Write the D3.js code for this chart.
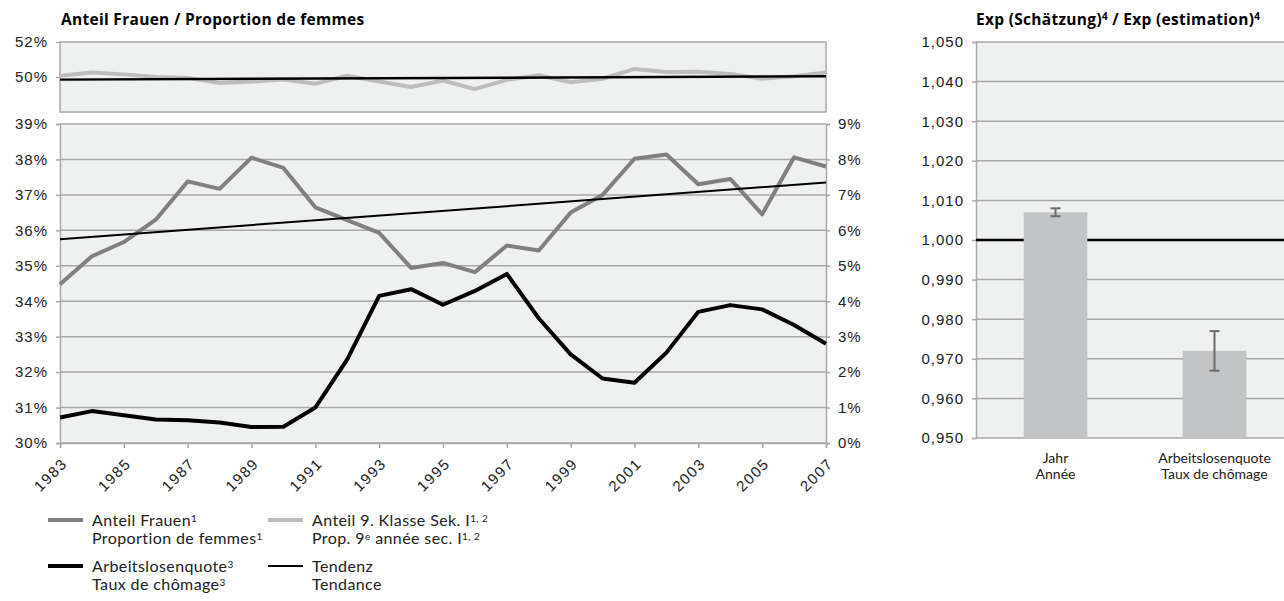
<!DOCTYPE html>
<html>
<head>
<meta charset="utf-8">
<script src="https://cdn.jsdelivr.net/npm/d3@7.9.0/dist/d3.min.js"></script>
<style>
  body { margin: 0; background: #fff; }
  svg { display: block; font-family: "Open Sans", sans-serif; }
  .tick text { font-size: 15px; letter-spacing: 1px; fill: #222; }
  .legend text { font-family: Lato, sans-serif; font-size: 16px; letter-spacing: 0.4px; fill: #222; }
  .title { font-size: 15.5px; font-weight: bold; letter-spacing: 0.3px; }
</style>
</head>
<body>
<svg width="1284" height="601"></svg>
<script>
// data
const years = [1983, 1984, 1985, 1986, 1987, 1988, 1989, 1990, 1991, 1992, 1993, 1994, 1995,
               1996, 1997, 1998, 1999, 2000, 2001, 2002, 2003, 2004, 2005, 2006, 2007];
const yearLabels = [1983, 1985, 1987, 1989, 1991, 1993, 1995, 1997, 1999, 2001, 2003, 2005, 2007];
const anteilFrauen = [34.48, 35.27, 35.67, 36.3, 37.38, 37.17, 38.05, 37.76, 36.65, 36.29, 35.93, 34.94, 35.08,
                      34.82, 35.57, 35.43, 36.5, 37.0, 38.02, 38.14, 37.3, 37.45, 36.45, 38.06, 37.8];
const arbeitslos = [0.72, 0.9, 0.78, 0.66, 0.64, 0.58, 0.45, 0.46, 1.0, 2.36, 4.15, 4.34, 3.9,
                    4.29, 4.77, 3.52, 2.5, 1.82, 1.7, 2.55, 3.7, 3.89, 3.77, 3.33, 2.8];
const klasse9 = [50.07, 50.26, 50.15, 50.0, 49.95, 49.66, 49.74, 49.86, 49.62, 50.07, 49.74, 49.43, 49.8,
                 49.31, 49.84, 50.1, 49.7, 49.9, 50.46, 50.28, 50.3, 50.17, 49.9, 50.04, 50.26];
const trendYears = [1983, 2007];
const trendFrauen = [35.75, 37.35];
const trendKlasse = [49.85, 50.04];
const leftTicks = [30, 31, 32, 33, 34, 35, 36, 37, 38, 39];
const rightTicks = [0, 1, 2, 3, 4, 5, 6, 7, 8, 9];
const topTicks = [50, 52];

const expCats = ["Jahr", "Arbeitslosenquote"];
const expCatLabels = [["Jahr", "Année"], ["Arbeitslosenquote", "Taux de chômage"]];
const expValues = [1.007, 0.972];
const expLow = [1.006, 0.967];
const expHigh = [1.008, 0.977];
const expTicks = [0.95, 0.96, 0.97, 0.98, 0.99, 1.0, 1.01, 1.02, 1.03, 1.04, 1.05];

const bg = '#eff0f0', grid = '#a8a8a8';
const svg = d3.select('svg');

// scales
let x = d3.scaleLinear().domain([1983, 2007]).range([60, 826]);
let yTop = d3.scaleLinear().domain([48, 52]).range([112, 42]);
let yLeft = d3.scaleLinear().domain([30, 39]).range([443, 124]);
let yRight = d3.scaleLinear().domain([0, 9]).range([443, 124]);

// titles
svg.append('text').attr('class', 'title').attr('x', 61).attr('y', 25)
  .text('Anteil Frauen / Proportion de femmes');

let t2 = svg.append('text').attr('class', 'title').attr('x', 976).attr('y', 25);
t2.append('tspan').text('Exp (Schätzung)');
t2.append('tspan').attr('font-size', 10).attr('dy', -5).text('4');
t2.append('tspan').attr('dy', 5).text(' / Exp (estimation)');
t2.append('tspan').attr('font-size', 10).attr('dy', -5).text('4');

// ---- upper small panel
svg.append('rect').attr('x', 60).attr('y', 42).attr('width', 766).attr('height', 70)
  .attr('fill', bg).attr('stroke', grid).attr('stroke-width', 1.5);

svg.append('g').attr('transform', 'translate(60,0)')
  .call(d3.axisLeft(yTop).tickValues(topTicks).tickSize(4).tickPadding(8).tickFormat(d => d + '%'))
  .call(g => g.select('.domain').remove())
  .call(g => g.selectAll('line').attr('stroke', grid).attr('stroke-width', 1.5));

let line9 = d3.line().x((d, i) => x(years[i])).y(d => yTop(d));
svg.append('path').datum(klasse9).attr('d', line9)
  .attr('fill', 'none').attr('stroke', '#bdbdbd').attr('stroke-width', 4).attr('stroke-linejoin', 'round');

svg.append('path').datum(trendKlasse)
  .attr('d', d3.line().x((d, i) => x(trendYears[i])).y(d => yTop(d)))
  .attr('fill', 'none').attr('stroke', '#000').attr('stroke-width', 2.5);

// ---- main panel
svg.append('rect').attr('x', 60).attr('y', 124).attr('width', 766).attr('height', 319).attr('fill', bg);

svg.append('g').selectAll('line').data(leftTicks).join('line')
  .attr('x1', 60).attr('x2', 826)
  .attr('y1', d => yLeft(d)).attr('y2', d => yLeft(d))
  .attr('stroke', grid).attr('stroke-width', 1.5);

svg.append('g').attr('transform', 'translate(60,0)')
  .call(d3.axisLeft(yLeft).tickValues(leftTicks).tickSize(4).tickPadding(8).tickFormat(d => d + '%'))
  .call(g => g.select('.domain').attr('stroke', grid).attr('stroke-width', 1.5))
  .call(g => g.selectAll('line').attr('stroke', grid).attr('stroke-width', 1.5));

svg.append('g').attr('transform', 'translate(826,0)')
  .call(d3.axisRight(yRight).tickValues(rightTicks).tickSize(4).tickPadding(8).tickFormat(d => d + '%'))
  .call(g => g.select('.domain').attr('stroke', grid).attr('stroke-width', 1.5))
  .call(g => g.selectAll('line').attr('stroke', grid).attr('stroke-width', 1.5));

let xAxis = svg.append('g').attr('transform', 'translate(0,443)')
  .call(d3.axisBottom(x).tickValues(yearLabels).tickSize(5).tickFormat(d => d));
xAxis.select('.domain').attr('stroke', grid).attr('stroke-width', 1.5);
xAxis.selectAll('line').attr('stroke', grid).attr('stroke-width', 1.5);
xAxis.selectAll('text')
  .attr('text-anchor', 'end')
  .attr('dy', 0)
  .style('letter-spacing', '1.5px')
  .attr('transform', 'translate(2,16) rotate(-45)');

let lineFrauen = d3.line().x((d, i) => x(years[i])).y(d => yLeft(d));
let lineArbeit = d3.line().x((d, i) => x(years[i])).y(d => yRight(d));

svg.append('path').datum(anteilFrauen).attr('d', lineFrauen)
  .attr('fill', 'none').attr('stroke', '#808080').attr('stroke-width', 4).attr('stroke-linejoin', 'round');
svg.append('path').datum(arbeitslos).attr('d', lineArbeit)
  .attr('fill', 'none').attr('stroke', '#000').attr('stroke-width', 4).attr('stroke-linejoin', 'round');
svg.append('path').datum(trendFrauen)
  .attr('d', d3.line().x((d, i) => x(trendYears[i])).y(d => yLeft(d)))
  .attr('fill', 'none').attr('stroke', '#000').attr('stroke-width', 2);

// ---- legend
const legendItems = [
  { color: '#808080', w: 4, x: 48, y: 520, lines: [['Anteil Frauen', '1'], ['Proportion de femmes', '1']] },
  { color: '#bdbdbd', w: 4, x: 268, y: 520, lines: [['Anteil 9. Klasse Sek. I', '1, 2'], ['Prop. 9', 'e', ' année sec. I', '1, 2']] },
  { color: '#000', w: 4, x: 48, y: 566, lines: [['Arbeitslosenquote', '3'], ['Taux de chômage', '3']] },
  { color: '#000', w: 2, x: 268, y: 566, lines: [['Tendenz'], ['Tendance']] }
];
let legend = svg.append('g').attr('class', 'legend');
legendItems.forEach(item => {
  legend.append('line').attr('x1', item.x).attr('x2', item.x + 35)
    .attr('y1', item.y).attr('y2', item.y)
    .attr('stroke', item.color).attr('stroke-width', item.w);
  item.lines.forEach((parts, li) => {
    let t = legend.append('text').attr('x', item.x + 44).attr('y', item.y + 6 + li * 18);
    parts.forEach((p, pi) => {
      if (pi % 2 === 0) t.append('tspan').text(p);
      else t.append('tspan').attr('font-size', 10).attr('baseline-shift', '40%').text(p);
    });
  });
});

// ---- right panel
let yExp = d3.scaleLinear().domain([0.95, 1.05]).range([438, 42]);
let xCat = d3.scaleBand().domain(expCats).range([976, 1294]).paddingInner(0.6).paddingOuter(0.3);
let fmt = d => d3.format('.3f')(d).replace('.', ',');

svg.append('rect').attr('x', 976).attr('y', 42).attr('width', 318).attr('height', 396).attr('fill', bg);
svg.append('g').selectAll('line').data(expTicks).join('line')
  .attr('x1', 976).attr('x2', 1294)
  .attr('y1', d => yExp(d)).attr('y2', d => yExp(d))
  .attr('stroke', grid).attr('stroke-width', 1.5);

svg.append('g').attr('transform', 'translate(976,0)')
  .call(d3.axisLeft(yExp).tickValues(expTicks).tickSize(4).tickPadding(8).tickFormat(fmt))
  .call(g => g.select('.domain').attr('stroke', grid).attr('stroke-width', 1.5))
  .call(g => g.selectAll('line').attr('stroke', grid).attr('stroke-width', 1.5));

svg.append('line').attr('x1', 976).attr('x2', 1294)
  .attr('y1', yExp(1)).attr('y2', yExp(1))
  .attr('stroke', '#000').attr('stroke-width', 2.5);

svg.append('g').selectAll('rect').data(expValues).join('rect')
  .attr('x', (d, i) => xCat(expCats[i]))
  .attr('width', xCat.bandwidth())
  .attr('y', d => yExp(d))
  .attr('height', d => yExp(0.95) - yExp(d))
  .attr('fill', '#c3c4c5');

let eb = svg.append('g').attr('stroke', '#6b6b6b').attr('stroke-width', 2);
expCats.forEach((c, i) => {
  let cx = xCat(c) + xCat.bandwidth() / 2;
  eb.append('line').attr('x1', cx).attr('x2', cx).attr('y1', yExp(expLow[i])).attr('y2', yExp(expHigh[i]));
  eb.append('line').attr('x1', cx - 5).attr('x2', cx + 5).attr('y1', yExp(expLow[i])).attr('y2', yExp(expLow[i]));
  eb.append('line').attr('x1', cx - 5).attr('x2', cx + 5).attr('y1', yExp(expHigh[i])).attr('y2', yExp(expHigh[i]));
});

expCats.forEach((c, i) => {
  let cx = xCat(c) + xCat.bandwidth() / 2;
  expCatLabels[i].forEach((l, li) => {
    svg.append('text').attr('x', cx).attr('y', 463 + li * 16)
      .attr('text-anchor', 'middle').attr('font-family', 'Lato, sans-serif').attr('font-size', 14)
      .attr('fill', '#222').text(l);
  });
});
</script>
</body>
</html>
